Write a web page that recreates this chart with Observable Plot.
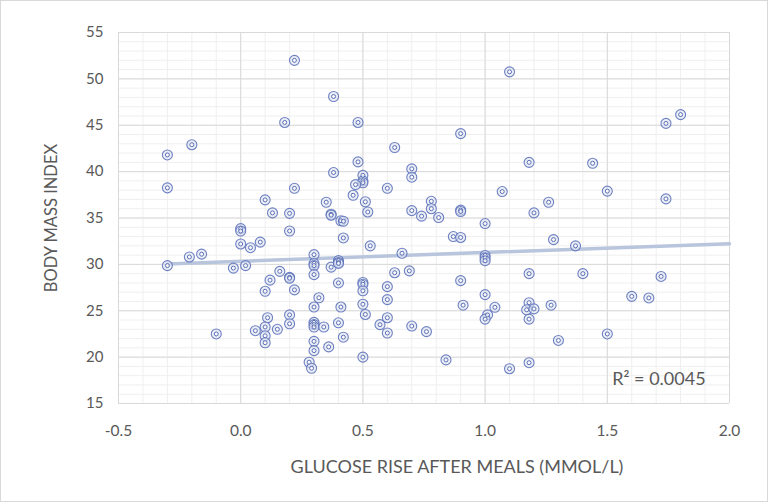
<!DOCTYPE html>
<html><head><meta charset="utf-8">
<script src="https://cdn.jsdelivr.net/npm/d3@7"></script>
<script src="https://cdn.jsdelivr.net/npm/@observablehq/plot@0.6"></script>
<style>
body{margin:0;background:#fff;}
#chart{width:766px;height:500px;border:1px solid #d9d9d9;}
#chart svg{display:block;}
</style></head><body><div id="chart"></div>
<script>
const glucoseRise = [
-0.30,-0.20,-0.30,-0.30,-0.21,-0.16,-0.10,-0.03,0.00,0.00,
0.00,0.02,0.04,0.08,0.10,0.13,0.20,0.20,0.12,0.16,
0.20,0.20,0.10,0.22,0.11,0.10,0.06,0.15,0.10,0.10,
0.20,0.20,0.30,0.30,0.30,0.30,0.37,0.40,0.40,0.40,
0.40,0.32,0.30,0.41,0.30,0.30,0.30,0.34,0.40,0.42,
0.30,0.30,0.36,0.28,0.29,0.50,0.50,0.50,0.50,0.50,
0.51,0.60,0.60,0.60,0.57,0.60,0.53,0.66,0.63,0.69,
0.70,0.70,0.35,0.51,0.52,0.37,0.37,0.41,0.42,0.42,
0.22,0.38,0.18,0.48,0.63,0.48,0.70,0.70,0.38,0.50,
0.50,0.50,0.47,0.60,0.22,0.46,0.78,0.78,0.74,0.81,
0.90,0.90,1.10,1.80,1.74,0.90,1.18,1.44,1.07,1.50,
1.74,1.26,1.20,1.00,0.87,0.90,1.28,1.37,1.00,1.00,
1.00,1.18,1.40,0.90,1.72,1.00,1.60,1.67,0.91,1.04,
1.18,1.17,1.20,1.27,1.01,1.00,1.18,0.76,1.30,1.50,
0.84,1.10,1.18
];
const bmi = [
41.8,42.9,38.25,29.87,30.8,31.1,22.5,29.6,33.85,33.6,
32.2,29.87,31.8,32.4,36.95,35.55,35.5,33.6,28.3,29.25,
28.6,28.5,27.1,27.25,24.25,23.25,22.85,23.0,22.3,21.55,
24.55,23.6,31.05,30.1,29.87,28.9,29.7,30.4,30.2,30.1,
28.0,26.4,25.4,25.4,23.75,23.5,23.25,23.25,23.7,22.15,
21.7,20.7,21.1,19.45,18.8,20.0,28.05,27.85,27.15,25.7,
24.6,27.6,26.2,24.25,23.5,22.6,32.0,31.2,29.1,29.3,
23.35,35.8,36.7,36.75,35.65,35.4,35.3,34.7,34.65,32.85,
52.0,48.1,45.3,45.3,42.6,41.05,40.3,39.4,39.9,39.6,
39.0,38.8,38.6,38.2,38.2,37.45,36.8,36.0,35.2,35.05,
35.85,35.7,50.76,46.15,45.2,44.1,41.0,40.9,37.85,37.9,
37.06,36.7,35.55,34.4,33.0,32.9,32.67,32.0,30.95,30.7,
30.4,29.0,29.0,28.25,28.7,26.74,26.55,26.38,25.6,25.37,
25.87,25.1,25.2,25.6,24.55,24.1,24.1,22.75,21.8,22.5,
19.7,18.75,19.4
];
const xTicks = [-0.5, 0, 0.5, 1, 1.5, 2];
const yTicks = [15, 20, 25, 30, 35, 40, 45, 50, 55];
const xMinor = d3.range(-5, 21).map(i => i / 10);
const yMinor = d3.range(15, 56);
const r2Label = "R² = 0.0045";
const xTitle = "GLUCOSE RISE AFTER MEALS (MMOL/L)";
const yTitle = "BODY MASS INDEX";

const data = glucoseRise.map((x, i) => ({x, y: bmi[i]}));
const mx = d3.mean(data, d => d.x), my = d3.mean(data, d => d.y);
const slope = d3.sum(data, d => (d.x - mx) * (d.y - my)) / d3.sum(data, d => (d.x - mx) ** 2);
const intercept = my - slope * mx;
const trend = [d3.min(glucoseRise), xTicks[xTicks.length - 1]].map(x => ({x, y: intercept + slope * x}));

const font = "Lato, 'Open Sans', sans-serif";
const chart = Plot.plot({
  width: 766, height: 500,
  marginLeft: 117, marginRight: 38, marginTop: 31, marginBottom: 98,
  style: {fontFamily: font, background: "#fff"},
  x: {domain: [-0.5, 2]},
  y: {domain: [15, 55]},
  marks: [
    Plot.gridX(xMinor, {stroke: "#efefef", strokeOpacity: 1}),
    Plot.gridY(yMinor, {stroke: "#efefef", strokeOpacity: 1}),
    Plot.gridX(xTicks, {stroke: "#d9d9d9", strokeOpacity: 1}),
    Plot.gridY(yTicks, {stroke: "#d9d9d9", strokeOpacity: 1}),
    Plot.axisX(xTicks, {tickSize: 0, tickPadding: 21, fontSize: 15.5, color: "#595959", tickFormat: d => d.toFixed(1), label: null}),
    Plot.axisY(yTicks, {tickSize: 0, tickPadding: 15, fontSize: 15, color: "#595959", label: null}),
    Plot.line(trend, {x: "x", y: "y", stroke: "#b8c5dd", strokeWidth: 3.5}),
    Plot.dot(data, {x: "x", y: "y", r: 5, stroke: "#5f74bb", strokeWidth: 1.1, fill: "#dfe4f3", fillOpacity: 0.6, strokeOpacity: 0.9}),
    Plot.dot(data, {x: "x", y: "y", r: 2, stroke: "#4e64ad", strokeWidth: 1, fill: "#fff", fillOpacity: 0.7, strokeOpacity: 0.9}),
    Plot.text([r2Label], {x: 1.52, y: 17.6, text: d => d, textAnchor: "start", fontSize: 18, fill: "#595959"}),
    Plot.text([xTitle], {frameAnchor: "bottom", text: d => d, dx: 33, dy: 64, lineAnchor: "middle", fontSize: 18, fill: "#595959"}),
    Plot.text([yTitle], {frameAnchor: "left", text: d => d, dx: -67, rotate: -90, textAnchor: "middle", lineAnchor: "middle", fontSize: 16.5, fill: "#595959"})
  ]
});
document.getElementById("chart").appendChild(chart);
</script>
</body></html>
